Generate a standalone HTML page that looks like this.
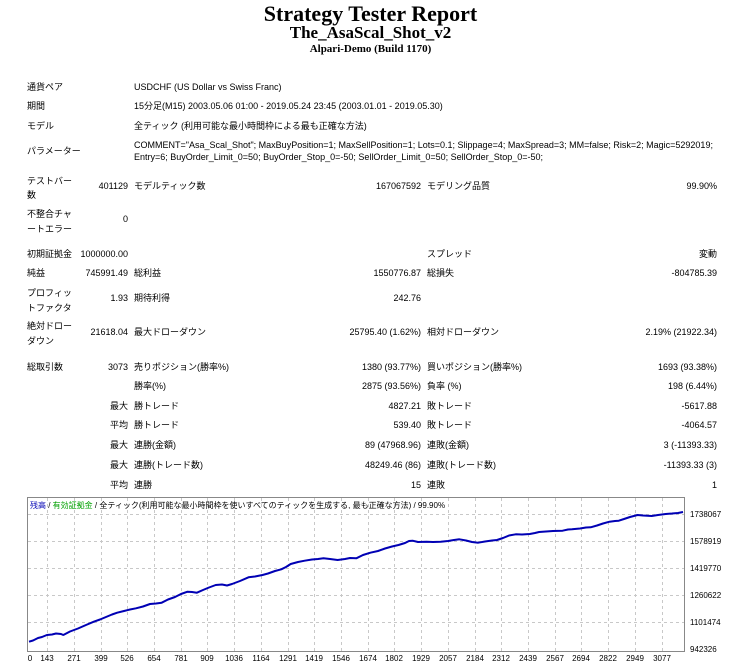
<!DOCTYPE html>
<html><head><meta charset="utf-8"><style>
body{margin:0;width:729px;height:671px;background:#fff;position:relative;overflow:hidden;font-family:"Liberation Sans","Noto Sans CJK JP",sans-serif;font-size:9px;color:#000}
.t{position:absolute;white-space:nowrap;line-height:12px}
.r{text-align:right}
.h{position:absolute;left:0;width:741px;text-align:center;font-family:"Liberation Serif",serif;font-weight:bold;white-space:nowrap}
</style></head><body>
<div class="h" style="top:1px;font-size:22px">Strategy Tester Report</div>
<div class="h" style="top:23px;font-size:17px">The_AsaScal_Shot_v2</div>
<div class="h" style="top:43px;font-size:11px">Alpari-Demo (Build 1170)</div>

<div class="t" style="left:27px;top:81px">通貨ペア</div>
<div class="t" style="left:134px;top:81px">USDCHF (US Dollar vs Swiss Franc)</div>
<div class="t" style="left:27px;top:100px">期間</div>
<div class="t" style="left:134px;top:100px">15分足(M15) 2003.05.06 01:00 - 2019.05.24 23:45 (2003.01.01 - 2019.05.30)</div>
<div class="t" style="left:27px;top:120px">モデル</div>
<div class="t" style="left:134px;top:120px">全ティック (利用可能な最小時間枠による最も正確な方法)</div>
<div class="t" style="left:27px;top:145px">パラメーター</div>
<div class="t" style="left:134px;top:139px">COMMENT="Asa_Scal_Shot"; MaxBuyPosition=1; MaxSellPosition=1; Lots=0.1; Slippage=4; MaxSpread=3; MM=false; Risk=2; Magic=5292019;</div>
<div class="t" style="left:134px;top:151px">Entry=6; BuyOrder_Limit_0=50; BuyOrder_Stop_0=-50; SellOrder_Limit_0=50; SellOrder_Stop_0=-50;</div>

<div class="t" style="left:27px;top:174px;line-height:14px">テストバー<br>数</div>
<div class="t r" style="right:601px;top:180px">401129</div>
<div class="t" style="left:134px;top:180px">モデルティック数</div>
<div class="t r" style="right:308px;top:180px">167067592</div>
<div class="t" style="left:427px;top:180px">モデリング品質</div>
<div class="t r" style="right:12px;top:180px">99.90%</div>

<div class="t" style="left:27px;top:207px;line-height:15px">不整合チャ<br>ートエラー</div>
<div class="t r" style="right:601px;top:213px">0</div>

<div class="t" style="left:27px;top:248px">初期証拠金</div>
<div class="t r" style="right:601px;top:248px">1000000.00</div>
<div class="t" style="left:427px;top:248px">スプレッド</div>
<div class="t r" style="right:12px;top:248px">変動</div>

<div class="t" style="left:27px;top:267px">純益</div>
<div class="t r" style="right:601px;top:267px">745991.49</div>
<div class="t" style="left:134px;top:267px">総利益</div>
<div class="t r" style="right:308px;top:267px">1550776.87</div>
<div class="t" style="left:427px;top:267px">総損失</div>
<div class="t r" style="right:12px;top:267px">-804785.39</div>

<div class="t" style="left:27px;top:286px;line-height:15px">プロフィッ<br>トファクタ</div>
<div class="t r" style="right:601px;top:292px">1.93</div>
<div class="t" style="left:134px;top:292px">期待利得</div>
<div class="t r" style="right:308px;top:292px">242.76</div>

<div class="t" style="left:27px;top:319px;line-height:15px">絶対ドロー<br>ダウン</div>
<div class="t r" style="right:601px;top:326px">21618.04</div>
<div class="t" style="left:134px;top:326px">最大ドローダウン</div>
<div class="t r" style="right:308px;top:326px">25795.40 (1.62%)</div>
<div class="t" style="left:427px;top:326px">相対ドローダウン</div>
<div class="t r" style="right:12px;top:326px">2.19% (21922.34)</div>

<div class="t" style="left:27px;top:361px">総取引数</div>
<div class="t r" style="right:601px;top:361px">3073</div>
<div class="t" style="left:134px;top:361px">売りポジション(勝率%)</div>
<div class="t r" style="right:308px;top:361px">1380 (93.77%)</div>
<div class="t" style="left:427px;top:361px">買いポジション(勝率%)</div>
<div class="t r" style="right:12px;top:361px">1693 (93.38%)</div>

<div class="t" style="left:134px;top:380px">勝率(%)</div>
<div class="t r" style="right:308px;top:380px">2875 (93.56%)</div>
<div class="t" style="left:427px;top:380px">負率 (%)</div>
<div class="t r" style="right:12px;top:380px">198 (6.44%)</div>

<div class="t r" style="right:601px;top:400px">最大</div>
<div class="t" style="left:134px;top:400px">勝トレード</div>
<div class="t r" style="right:308px;top:400px">4827.21</div>
<div class="t" style="left:427px;top:400px">敗トレード</div>
<div class="t r" style="right:12px;top:400px">-5617.88</div>

<div class="t r" style="right:601px;top:419px">平均</div>
<div class="t" style="left:134px;top:419px">勝トレード</div>
<div class="t r" style="right:308px;top:419px">539.40</div>
<div class="t" style="left:427px;top:419px">敗トレード</div>
<div class="t r" style="right:12px;top:419px">-4064.57</div>

<div class="t r" style="right:601px;top:439px">最大</div>
<div class="t" style="left:134px;top:439px">連勝(金額)</div>
<div class="t r" style="right:308px;top:439px">89 (47968.96)</div>
<div class="t" style="left:427px;top:439px">連敗(金額)</div>
<div class="t r" style="right:12px;top:439px">3 (-11393.33)</div>

<div class="t r" style="right:601px;top:459px">最大</div>
<div class="t" style="left:134px;top:459px">連勝(トレード数)</div>
<div class="t r" style="right:308px;top:459px">48249.46 (86)</div>
<div class="t" style="left:427px;top:459px">連敗(トレード数)</div>
<div class="t r" style="right:12px;top:459px">-11393.33 (3)</div>

<div class="t r" style="right:601px;top:479px">平均</div>
<div class="t" style="left:134px;top:479px">連勝</div>
<div class="t r" style="right:308px;top:479px">15</div>
<div class="t" style="left:427px;top:479px">連敗</div>
<div class="t r" style="right:12px;top:479px">1</div>

<svg style="position:absolute;left:0;top:0" width="729" height="671">
<rect x="27.5" y="497.5" width="657" height="154" fill="#fff" stroke="#888"/>
<g stroke="#c8c8c8" stroke-dasharray="3,3" stroke-width="1">
<line x1="28" x2="684" y1="514.5" y2="514.5"/><line x1="28" x2="684" y1="541.5" y2="541.5"/><line x1="28" x2="684" y1="568.5" y2="568.5"/><line x1="28" x2="684" y1="595.5" y2="595.5"/><line x1="28" x2="684" y1="622.5" y2="622.5"/>
<line y1="498" y2="651" x1="47.5" x2="47.5"/><line y1="498" y2="651" x1="74.5" x2="74.5"/><line y1="498" y2="651" x1="101.5" x2="101.5"/><line y1="498" y2="651" x1="127.5" x2="127.5"/><line y1="498" y2="651" x1="154.5" x2="154.5"/><line y1="498" y2="651" x1="181.5" x2="181.5"/><line y1="498" y2="651" x1="207.5" x2="207.5"/><line y1="498" y2="651" x1="234.5" x2="234.5"/><line y1="498" y2="651" x1="261.5" x2="261.5"/><line y1="498" y2="651" x1="288.5" x2="288.5"/><line y1="498" y2="651" x1="314.5" x2="314.5"/><line y1="498" y2="651" x1="341.5" x2="341.5"/><line y1="498" y2="651" x1="368.5" x2="368.5"/><line y1="498" y2="651" x1="394.5" x2="394.5"/><line y1="498" y2="651" x1="421.5" x2="421.5"/><line y1="498" y2="651" x1="448.5" x2="448.5"/><line y1="498" y2="651" x1="475.5" x2="475.5"/><line y1="498" y2="651" x1="501.5" x2="501.5"/><line y1="498" y2="651" x1="528.5" x2="528.5"/><line y1="498" y2="651" x1="555.5" x2="555.5"/><line y1="498" y2="651" x1="581.5" x2="581.5"/><line y1="498" y2="651" x1="608.5" x2="608.5"/><line y1="498" y2="651" x1="635.5" x2="635.5"/><line y1="498" y2="651" x1="662.5" x2="662.5"/>
</g>
<polyline fill="none" stroke="#0000b4" stroke-width="2" stroke-linejoin="bevel" points="29,641.7 33,640.5 38,638 42,637 46.9,635 52,634.5 56,633.5 61,634 63.3,635 70,631.5 78,628.5 86,625 93.8,621.7 100,619.5 106,617 112,614.5 117.2,612.7 124,611 130,609.5 136,608.3 143,606.5 150,604 156,603.5 161.7,602.7 168,599.5 175,597 181,594 187.5,591.7 192,592 196.9,592.7 203,590 209,587.5 215.7,585 222,584.5 227,585.5 232,584 240,581 248.5,577.3 255,576.5 262.5,575 268,573.5 275,571 281.3,569.3 286,567 290.7,564 298,562 304.7,560.7 312,559.5 318,559 323.5,558.3 330,559 337.6,560 345,559 350,558 356.3,558.3 363,555 370.4,552.7 378,551 385,548.5 392,546.5 398.5,545 405,543 409,541 412.6,540.7 418,542 426.6,541.7 433,542 440.7,541.7 448,541 454,540 459.4,539.3 466,540.5 472,542 478.2,542.7 485,541.5 492,540.5 497,540 503,538 509,535.5 515.7,534.3 522,534.5 529.8,534 535,533 539.1,532 546,531.5 553,531 562.6,530.7 568,529.5 572,529.3 580,528.5 586,527.5 590.7,527.3 597,525.5 603,523.5 609.5,521.7 615,521 618.8,520.7 624,519 630,517 637.6,515 643,515.5 651.7,516 658,515 665.7,514 672,513.5 678,513 683,512"/>
<g font-family="Liberation Sans, sans-serif" font-size="8" fill="#000">
<text x="30" y="508"><tspan fill="#0000b4">残高</tspan> / <tspan fill="#00a000">有効証拠金</tspan> / 全ティック(利用可能な最小時間枠を使いすべてのティックを生成する, 最も正確な方法) / 99.90%</text>
<g text-anchor="start"><text x="690" y="517">1738067</text><text x="690" y="544">1578919</text><text x="690" y="571">1419770</text><text x="690" y="598">1260622</text><text x="690" y="625">1101474</text><text x="690" y="652">942326</text></g>
<g text-anchor="middle"><text x="30" y="661">0</text><text x="47" y="661">143</text><text x="74" y="661">271</text><text x="101" y="661">399</text><text x="127" y="661">526</text><text x="154" y="661">654</text><text x="181" y="661">781</text><text x="207" y="661">909</text><text x="234" y="661">1036</text><text x="261" y="661">1164</text><text x="288" y="661">1291</text><text x="314" y="661">1419</text><text x="341" y="661">1546</text><text x="368" y="661">1674</text><text x="394" y="661">1802</text><text x="421" y="661">1929</text><text x="448" y="661">2057</text><text x="475" y="661">2184</text><text x="501" y="661">2312</text><text x="528" y="661">2439</text><text x="555" y="661">2567</text><text x="581" y="661">2694</text><text x="608" y="661">2822</text><text x="635" y="661">2949</text><text x="662" y="661">3077</text></g>
</g>
</svg>
</body></html>
